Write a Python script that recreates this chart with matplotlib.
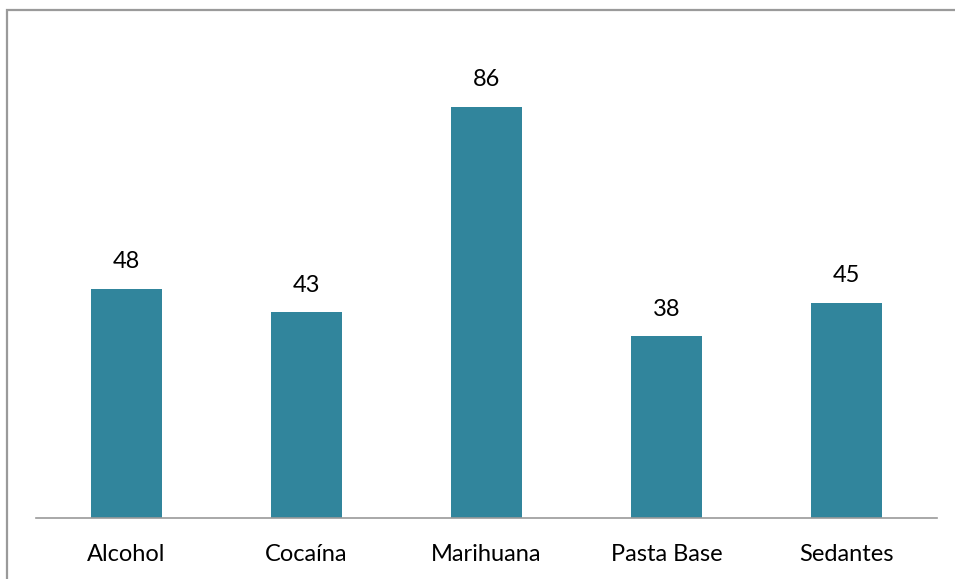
import matplotlib
matplotlib.use('Agg')

import matplotlib.pyplot as plt
from matplotlib.patches import Rectangle

categories = ['Alcohol', 'Cocaína', 'Marihuana', 'Pasta Base', 'Sedantes']
values = [48, 43, 86, 38, 45]

W, H = 955, 579
fig = plt.figure(figsize=(W / 100, H / 100), dpi=100)
plt.rcParams['font.family'] = ['Lato', 'DejaVu Sans']

# outer chart-area border (only top and left edges show)
fig.patches.append(Rectangle((7 / W, -0.1), 1.2, (H - 10) / H + 0.1,
                             transform=fig.transFigure, fill=False,
                             edgecolor='#9a9a9a', linewidth=1.6))

ax = fig.add_axes([36 / W, (H - 518) / H, (937 - 36) / W, (518 - 40) / H])
x = range(len(categories))
bars = ax.bar(x, values, width=0.395, color='#31859C')

for b, v in zip(bars, values):
    ax.annotate(str(v), (b.get_x() + b.get_width() / 2, v),
                xytext=(0, 19.5), textcoords='offset points',
                ha='center', va='center', fontsize=17, color='black')

ax.set_xlim(-0.5, len(categories) - 0.5)
ax.set_ylim(0, 100)
ax.set_xticks(list(x))
ax.set_xticklabels(categories, fontsize=17)
ax.tick_params(axis='x', length=0, pad=19)
ax.set_yticks([])
for s in ['top', 'right', 'left']:
    ax.spines[s].set_visible(False)
ax.spines['bottom'].set_color('#9a9a9a')
ax.spines['bottom'].set_linewidth(1.2)

fig.savefig('out.png', dpi=100)
